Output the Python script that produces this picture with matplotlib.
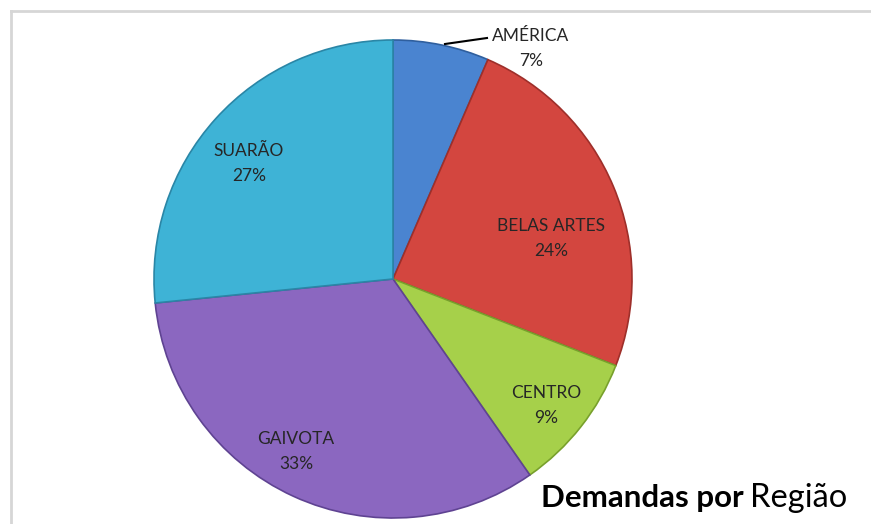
import matplotlib
matplotlib.use("Agg")
from matplotlib import pyplot as plt
from matplotlib.lines import Line2D

# data (shares; labels show rounded values)
regions = ["AMÉRICA", "BELAS ARTES", "CENTRO", "GAIVOTA", "SUARÃO"]
shares = [6.5, 24.4, 9.4, 33.1, 26.6]
colors = ["#4a84d0", "#d3463f", "#a6d04a", "#8b67c0", "#3eb3d6"]
edges = ["#2f5f9e", "#9e2f2a", "#78a02c", "#5f4392", "#2a86a6"]

W, H = 871, 524
fig = plt.figure(figsize=(W / 100., H / 100.), dpi=100)
ax = fig.add_axes([0, 0, 1, 1])

cx, cy, rad = 393, H - 279, 239
wedges, _ = ax.pie(shares, colors=colors, startangle=90, counterclock=False,
                   center=(cx, cy), radius=rad,
                   wedgeprops=dict(linewidth=1.2))
for w, ec in zip(wedges, edges):
    w.set_edgecolor(ec)

ax.set_xlim(0, W)
ax.set_ylim(0, H)
ax.set_aspect("equal")
ax.set_axis_off()

# label positions (pixels, top-left origin)
label_pos = [(531, 36), (551, 226), (546, 393), (296, 439), (249, 151)]
lab_font = dict(family=["Lato", "DejaVu Sans"], fontsize=12.5, color="#262626",
                ha="center", va="center")
total = sum(shares)
for name, v, (lx, ly) in zip(regions, shares, label_pos):
    pct = int(100. * v / total + 0.5)
    ax.text(lx, H - ly, name, **lab_font)
    ax.text(lx, H - ly - 25, f"{pct}%", **lab_font)

# leader line for AMÉRICA
ax.plot([445, 487], [H - 44, H - 38], color="black", lw=1.5)

# title: bold part then regular part
t1 = fig.text(541 / W, 1 - 498 / H, "Demandas por", family=["Lato", "DejaVu Sans"],
              fontsize=22.5, fontweight="bold", ha="left", va="center")
fig.canvas.draw()
bb = t1.get_window_extent()
fig.text((bb.x1 + 6) / W, 1 - 498 / H, "Região", family=["Lato", "DejaVu Sans"],
         fontsize=23.5, ha="left", va="center")

# chart border
fig.add_artist(Line2D([11 / W, 1], [1 - 11 / H, 1 - 11 / H], color="#d6d6d6", lw=2,
                      transform=fig.transFigure))
fig.add_artist(Line2D([11 / W, 11 / W], [0, 1 - 11 / H], color="#d6d6d6", lw=2,
                      transform=fig.transFigure))

fig.savefig("out.png", dpi=100)
